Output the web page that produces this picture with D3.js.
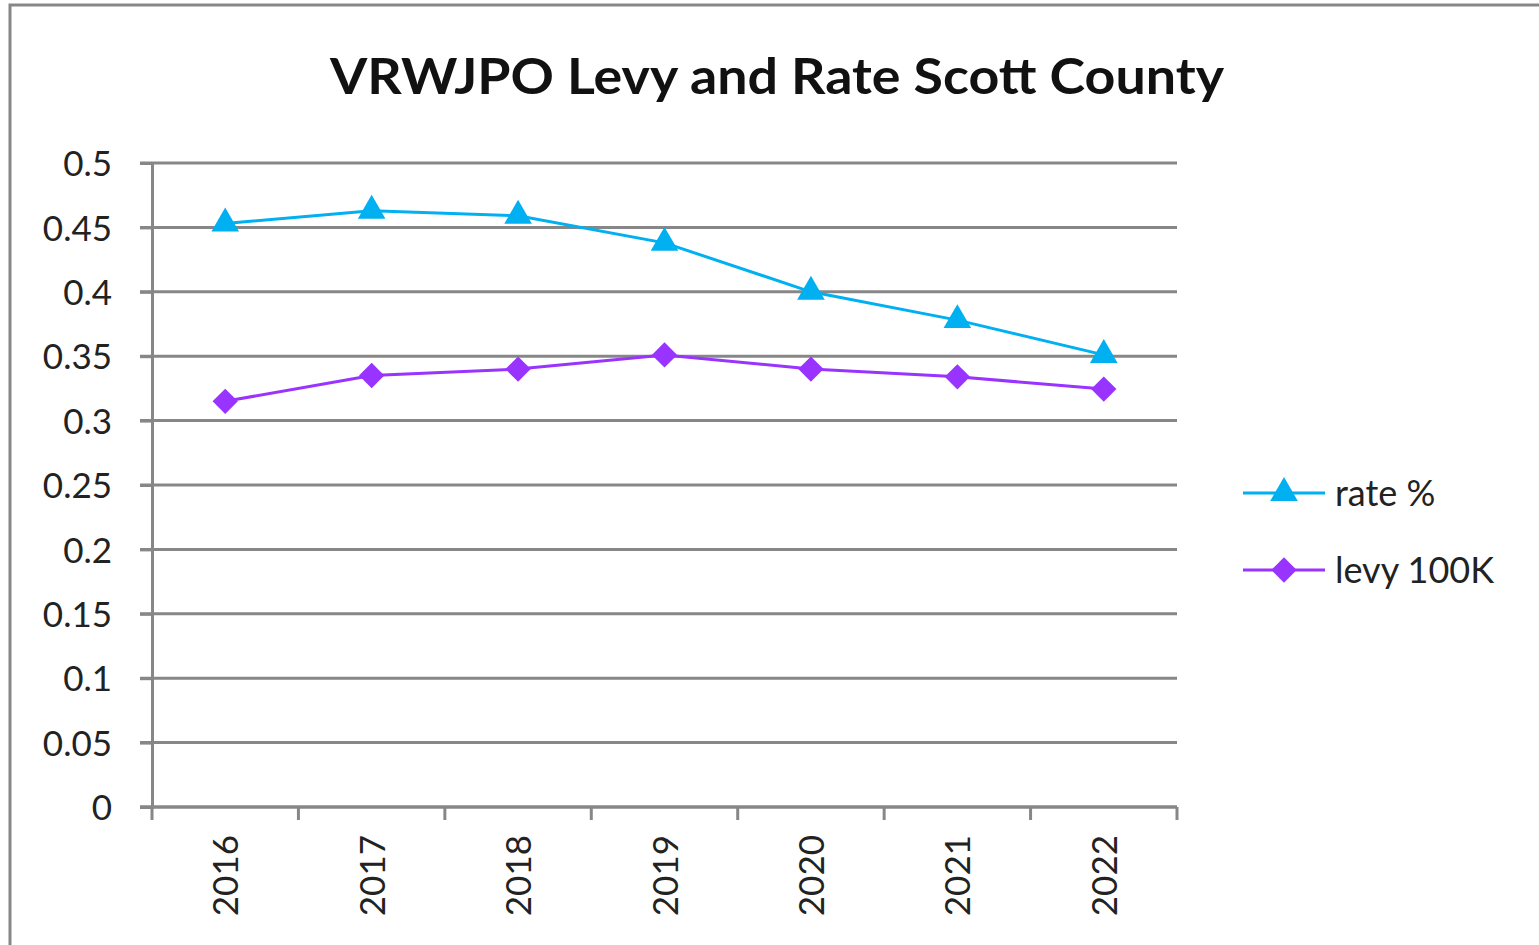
<!DOCTYPE html>
<html>
<head>
<meta charset="utf-8">
<script src="https://cdn.jsdelivr.net/npm/d3@7"></script>
<style>
  body { margin: 0; background: #fff; }
  svg { display: block; font-family: Lato, "Open Sans", sans-serif; }
</style>
</head>
<body>
<div id="chart"></div>
<script>
const years = ["2016", "2017", "2018", "2019", "2020", "2021", "2022"];
const rate = [0.453, 0.463, 0.459, 0.438, 0.400, 0.378, 0.351];
const levy = [0.315, 0.335, 0.340, 0.351, 0.340, 0.334, 0.3245];
const yTicks = [0, 0.05, 0.1, 0.15, 0.2, 0.25, 0.3, 0.35, 0.4, 0.45, 0.5];

const width = 1539, height = 945;
const gridColor = "#878787";

const svg = d3.select("#chart").append("svg")
  .attr("width", width)
  .attr("height", height);

// outer chart border
svg.append("rect")
  .attr("x", 10).attr("y", 5)
  .attr("width", 1560).attr("height", 960)
  .attr("fill", "#fff")
  .attr("stroke", gridColor)
  .attr("stroke-width", 3);

const x = d3.scaleBand().domain(years).range([152, 1177]);
const y = d3.scaleLinear().domain([0, 0.5]).range([807, 163]);

// gridlines
svg.append("g")
  .selectAll("line")
  .data(yTicks)
  .join("line")
  .attr("x1", 140).attr("x2", 1177)
  .attr("y1", d => y(d)).attr("y2", d => y(d))
  .attr("stroke", gridColor)
  .attr("stroke-width", 3);

// y axis
const yAxis = svg.append("g")
  .attr("transform", "translate(152,0)")
  .call(d3.axisLeft(y).tickValues(yTicks).tickSize(12).tickFormat(d => String(d)));
yAxis.select(".domain").attr("stroke", gridColor).attr("stroke-width", 3);
yAxis.selectAll(".tick line").attr("stroke", gridColor).attr("stroke-width", 3);
yAxis.selectAll(".tick text")
  .attr("x", -40)
  .attr("dy", "0.36em")
  .attr("font-size", 35)
  .attr("font-family", "Lato, 'Open Sans', sans-serif")
  .attr("fill", "#222");

// x axis
const xAxis = svg.append("g")
  .attr("transform", "translate(0,807)");
xAxis.append("line")
  .attr("x1", 140).attr("x2", 1177)
  .attr("stroke", gridColor).attr("stroke-width", 3);
const xEdges = years.map(d => x(d)).concat([x.range()[1]]);
xAxis.selectAll("line.tick")
  .data(xEdges)
  .join("line")
  .attr("class", "tick")
  .attr("x1", d => d).attr("x2", d => d)
  .attr("y1", 0).attr("y2", 13)
  .attr("stroke", gridColor).attr("stroke-width", 3);
xAxis.selectAll("text")
  .data(years)
  .join("text")
  .attr("transform", d => `translate(${x(d) + x.bandwidth() / 2 + 13},28) rotate(-90)`)
  .attr("text-anchor", "end")
  .attr("font-size", 35)
  .attr("fill", "#222")
  .text(d => d);

const cx = (d, i) => x(years[i]) + x.bandwidth() / 2;

const line = d3.line()
  .x((d, i) => cx(d, i))
  .y(d => y(d));

const series = [
  { name: "rate %", values: rate, color: "#00B0F0", symbol: d3.symbolTriangle, size: 330, rot: 0 },
  { name: "levy 100K", values: levy, color: "#9933FF", symbol: d3.symbolSquare, size: 320, rot: 45 }
];

series.forEach(s => {
  svg.append("path")
    .datum(s.values)
    .attr("fill", "none")
    .attr("stroke", s.color)
    .attr("stroke-width", 3)
    .attr("d", line);
  svg.append("g")
    .selectAll("path")
    .data(s.values)
    .join("path")
    .attr("transform", (d, i) => `translate(${cx(d, i)},${y(d)}) rotate(${s.rot})`)
    .attr("d", d3.symbol().type(s.symbol).size(s.size))
    .attr("fill", s.color);
});

// legend
const legend = svg.append("g");
series.forEach((s, i) => {
  const ly = 493 + i * 77;
  legend.append("line")
    .attr("x1", 1243).attr("x2", 1325)
    .attr("y1", ly).attr("y2", ly)
    .attr("stroke", s.color).attr("stroke-width", 3);
  legend.append("path")
    .attr("transform", `translate(1284,${ly}) rotate(${s.rot})`)
    .attr("d", d3.symbol().type(s.symbol).size(s.size))
    .attr("fill", s.color);
  legend.append("text")
    .attr("x", 1335).attr("y", ly)
    .attr("dy", "0.36em")
    .attr("font-size", 36)
    .attr("fill", "#222")
    .text(s.name);
});

// title
svg.append("text")
  .attr("x", 777).attr("y", 94)
  .attr("text-anchor", "middle")
  .attr("font-size", 50)
  .attr("font-weight", "bold")
  .attr("fill", "#111")
  .attr("textLength", 894)
  .attr("lengthAdjust", "spacingAndGlyphs")
  .text("VRWJPO Levy and Rate Scott County");
</script>
</body>
</html>
